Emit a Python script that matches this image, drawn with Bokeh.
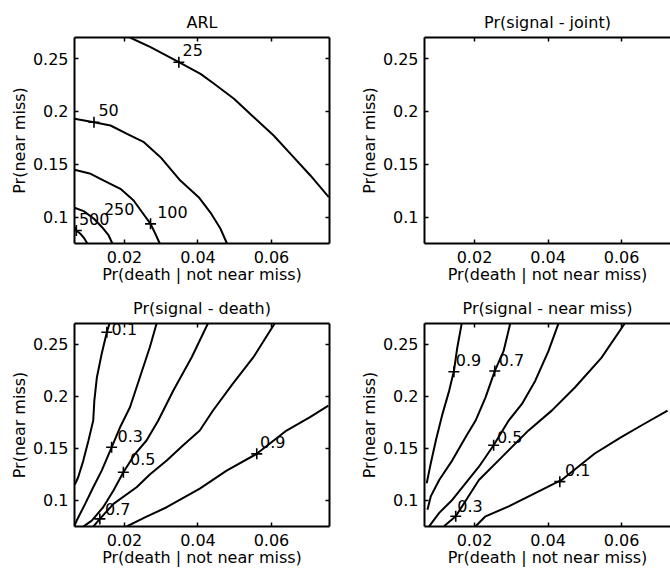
from bokeh.plotting import figure
from bokeh.layouts import column, row
from bokeh.models import LinearAxis, FixedTicker, Range1d, Label
from bokeh.embed import file_html
from bokeh.resources import INLINE

FONT = "DejaVu Sans"
FS = "16px"

# ---------------- axes ----------------
x_ticks = [0.02, 0.04, 0.06]
x_tick_labels = ["0.02", "0.04", "0.06"]
y_ticks = [0.1, 0.15, 0.2, 0.25]
y_tick_labels = ["0.1", "0.15", "0.2", "0.25"]
x_label = "Pr(death | not near miss)"
y_label = "Pr(near miss)"
X_START, X_END_FULL, X_END_CROP = 0.0064, 0.0758, 0.0733
Y_START, Y_END = 0.075, 0.27

titles = ["ARL", "Pr(signal - joint)", "Pr(signal - death)", "Pr(signal - near miss)"]

# ---------------- ARL contours ----------------
arl_levels = ["25", "50", "100", "250", "500"]
arl_25_x = [0.0215, 0.0271, 0.0348, 0.0407, 0.0443, 0.0498, 0.0552, 0.0606, 0.0652, 0.0706, 0.0756]
arl_25_y = [0.270, 0.2608, 0.2466, 0.2356, 0.2264, 0.2120, 0.1946, 0.1772, 0.1599, 0.1394, 0.1188]
arl_50_x = [0.0064, 0.0117, 0.0162, 0.0207, 0.0253, 0.0298, 0.0352, 0.0402, 0.0434, 0.0461, 0.0479]
arl_50_y = [0.1930, 0.1898, 0.1867, 0.1788, 0.1709, 0.1567, 0.1346, 0.1188, 0.1043, 0.0892, 0.0750]
arl_100_x = [0.0064, 0.0108, 0.0144, 0.0189, 0.0225, 0.0248, 0.0271, 0.0284, 0.0296]
arl_100_y = [0.1448, 0.1410, 0.1346, 0.1268, 0.1157, 0.1046, 0.0936, 0.0842, 0.0750]
arl_250_x = [0.0064, 0.0089, 0.0117, 0.0139, 0.0157, 0.0167]
arl_250_y = [0.1088, 0.1056, 0.0984, 0.0904, 0.0826, 0.0750]
arl_500_x = [0.0064, 0.0069, 0.0080, 0.0089, 0.0099]
arl_500_y = [0.0904, 0.0873, 0.0842, 0.0806, 0.0750]
arl_mark_x = [0.0348, 0.0117, 0.0271, 0.0069]
arl_mark_y = [0.2466, 0.1898, 0.0936, 0.0873]
arl_lab_x = [0.0358, 0.0129, 0.0289, 0.0144, 0.0076]
arl_lab_y = [0.2577, 0.2009, 0.1046, 0.1078, 0.0984]

# ---------------- Pr(signal - death) contours ----------------
death_levels = ["0.1", "0.3", "0.5", "0.7", "0.9"]
death_01_x = [0.0160, 0.0152, 0.0138, 0.0125, 0.0118, 0.0115, 0.0102, 0.0088, 0.0074, 0.0065]
death_01_y = [0.2707, 0.2616, 0.2409, 0.2184, 0.1960, 0.1768, 0.1576, 0.1383, 0.1223, 0.1153]
death_03_x = [0.0288, 0.0269, 0.0242, 0.0215, 0.0188, 0.0165, 0.0138, 0.0115, 0.0093, 0.0070, 0.0063]
death_03_y = [0.2707, 0.2472, 0.2184, 0.1896, 0.1703, 0.1511, 0.1287, 0.1127, 0.0967, 0.0807, 0.0749]
death_05_x = [0.0428, 0.0383, 0.0333, 0.0292, 0.0260, 0.0229, 0.0197, 0.0170, 0.0142, 0.0111, 0.0088]
death_05_y = [0.2707, 0.2376, 0.2056, 0.1768, 0.1576, 0.1448, 0.1271, 0.1096, 0.0935, 0.0807, 0.0749]
death_07_x = [0.0610, 0.0551, 0.0495, 0.0441, 0.0405, 0.0359, 0.0315, 0.0269, 0.0233, 0.0170, 0.0133, 0.0115]
death_07_y = [0.2707, 0.2376, 0.2123, 0.1864, 0.1672, 0.1528, 0.1383, 0.1249, 0.1127, 0.0967, 0.0823, 0.0749]
death_09_x = [0.0755, 0.0705, 0.0641, 0.0560, 0.0478, 0.0405, 0.0315, 0.0260, 0.0206]
death_09_y = [0.1912, 0.1800, 0.1672, 0.1448, 0.1287, 0.1114, 0.0935, 0.0845, 0.0750]
death_mark_x = [0.0152, 0.0165, 0.0197, 0.0133, 0.0560]
death_mark_y = [0.2616, 0.1511, 0.1271, 0.0823, 0.1448]
death_lab_x = [0.0165, 0.0181, 0.0215, 0.0147, 0.0569]
death_lab_y = [0.2645, 0.1615, 0.1400, 0.0919, 0.1559]

# ---------------- Pr(signal - near miss) contours ----------------
nm_levels = ["0.9", "0.7", "0.5", "0.3", "0.1"]
nm_09_x = [0.0165, 0.0153, 0.0144, 0.0131, 0.0113, 0.0095, 0.0081, 0.0070]
nm_09_y = [0.2697, 0.2465, 0.2243, 0.2053, 0.1832, 0.1578, 0.1356, 0.1166]
nm_07_x = [0.0297, 0.0279, 0.0255, 0.0230, 0.0203, 0.0176, 0.0140, 0.0104, 0.0081, 0.0072]
nm_07_y = [0.2697, 0.2434, 0.2243, 0.1990, 0.1768, 0.1609, 0.1388, 0.1197, 0.1039, 0.0912]
nm_05_x = [0.0428, 0.0401, 0.0365, 0.0329, 0.0293, 0.0252, 0.0212, 0.0176, 0.0140, 0.0104, 0.0077]
nm_05_y = [0.2697, 0.2434, 0.2148, 0.1927, 0.1768, 0.1530, 0.1324, 0.1166, 0.1007, 0.0881, 0.0753]
nm_03_x = [0.0608, 0.0545, 0.0473, 0.0410, 0.0347, 0.0275, 0.0212, 0.0149, 0.0117]
nm_03_y = [0.2697, 0.2370, 0.2085, 0.1863, 0.1673, 0.1419, 0.1197, 0.0848, 0.0753]
nm_01_x = [0.0725, 0.0662, 0.0599, 0.0527, 0.0437, 0.0365, 0.0293, 0.0230, 0.0203]
nm_01_y = [0.1863, 0.1737, 0.1609, 0.1451, 0.1197, 0.1071, 0.0943, 0.0848, 0.0753]
nm_mark_x = [0.0144, 0.0255, 0.0252, 0.0149, 0.0432]
nm_mark_y = [0.2237, 0.2243, 0.1530, 0.0848, 0.1181]
nm_lab_x = [0.0149, 0.0266, 0.0261, 0.0153, 0.0446]
nm_lab_y = [0.2345, 0.2345, 0.1609, 0.0943, 0.1293]

LW = 2.0


def style_axis(ax, ticks, labels, show_labels):
    ax.ticker = FixedTicker(ticks=ticks)
    ax.minor_tick_line_color = None
    ax.major_tick_in = 4
    ax.major_tick_out = 0
    ax.axis_line_color = "black"
    ax.axis_line_width = LW
    ax.major_tick_line_color = "black"
    ax.major_tick_line_width = 1.5
    ax.major_label_text_font = FONT
    if show_labels:
        ax.major_label_overrides = dict(zip(ticks, labels))
        ax.major_label_text_font_size = FS
        ax.major_label_text_color = "black"
    else:
        ax.major_label_overrides = {t: "" for t in ticks}
        ax.major_label_text_font_size = "1px"
        ax.major_label_text_color = None
        ax.major_label_standoff = 0


def make_panel(title, width, height, mb_left, mb_right, mb_top, mb_bottom, x_end, right_axis, title_standoff):
    p = figure(width=width, height=height, output_backend="svg", toolbar_location=None, tools="",
               x_range=Range1d(X_START, x_end), y_range=Range1d(Y_START, Y_END),
               min_border_left=mb_left, min_border_right=mb_right,
               min_border_top=mb_top, min_border_bottom=mb_bottom)
    p.outline_line_color = None
    p.xgrid.visible = False
    p.ygrid.visible = False
    p.background_fill_color = "white"
    p.border_fill_color = "white"
    style_axis(p.xaxis[0], x_ticks, x_tick_labels, True)
    style_axis(p.yaxis[0], y_ticks, y_tick_labels, True)
    p.xaxis[0].major_label_standoff = 7
    p.yaxis[0].major_label_standoff = 6
    p.xaxis[0].axis_label = x_label
    p.yaxis[0].axis_label = y_label
    for ax in (p.xaxis[0], p.yaxis[0]):
        ax.axis_label_text_font = FONT
        ax.axis_label_text_font_size = FS
        ax.axis_label_text_font_style = "normal"
        ax.axis_label_text_color = "black"
    p.xaxis[0].axis_label_standoff = -1
    p.yaxis[0].axis_label_standoff = 1
    top_ax = LinearAxis()
    style_axis(top_ax, x_ticks, x_tick_labels, False)
    p.add_layout(top_ax, "above")
    if right_axis:
        r_ax = LinearAxis()
        style_axis(r_ax, y_ticks, y_tick_labels, False)
        p.add_layout(r_ax, "right")
    p.title.text = title
    p.title.align = "center"
    p.title.vertical_align = "middle"
    p.title.text_font = FONT
    p.title.text_font_size = FS
    p.title.text_font_style = "normal"
    p.title.text_color = "black"
    p.title.standoff = title_standoff
    return p


def add_contours(p, lines, mark_x, mark_y, lab_x, lab_y, levels):
    for xs, ys in lines:
        p.line(xs, ys, line_color="black", line_width=LW)
    p.scatter(mark_x, mark_y, marker="cross", size=11, line_color="black", line_width=1.6)
    for lx, ly, txt in zip(lab_x, lab_y, levels):
        p.add_layout(Label(x=lx, y=ly, text=txt, text_align="left", text_baseline="middle",
                           text_font=FONT, text_font_size=FS, text_color="black"))


tl = make_panel(titles[0], 343, 288, 74, 14, 37, 45, X_END_FULL, True, 10)
tr = make_panel(titles[1], 327, 288, 81, 0, 37, 45, X_END_CROP, False, 10)
bl = make_panel(titles[2], 343, 281, 74, 14, 35, 43, X_END_FULL, True, 10)
br = make_panel(titles[3], 327, 281, 81, 0, 35, 43, X_END_CROP, False, 10)

add_contours(tl, [(arl_25_x, arl_25_y), (arl_50_x, arl_50_y), (arl_100_x, arl_100_y),
                  (arl_250_x, arl_250_y), (arl_500_x, arl_500_y)],
             arl_mark_x, arl_mark_y, arl_lab_x, arl_lab_y, arl_levels)
add_contours(bl, [(death_01_x, death_01_y), (death_03_x, death_03_y), (death_05_x, death_05_y),
                  (death_07_x, death_07_y), (death_09_x, death_09_y)],
             death_mark_x, death_mark_y, death_lab_x, death_lab_y, death_levels)
add_contours(br, [(nm_09_x, nm_09_y), (nm_07_x, nm_07_y), (nm_05_x, nm_05_y),
                  (nm_03_x, nm_03_y), (nm_01_x, nm_01_y)],
             nm_mark_x, nm_mark_y, nm_lab_x, nm_lab_y, nm_levels)

layout = column(row(tl, tr), row(bl, br))
open("out.html", "w").write(file_html(layout, INLINE))
